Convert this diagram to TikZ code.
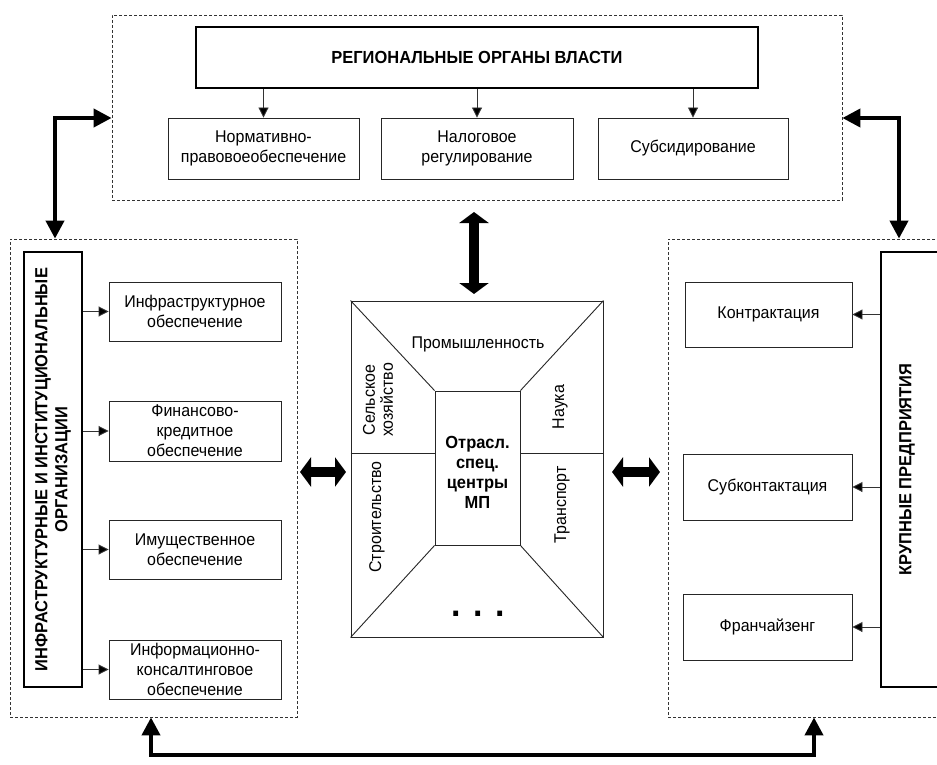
\documentclass[tikz,border=0pt]{standalone}
\usepackage{fontspec}
\setmainfont[FakeStretch=0.94]{Liberation Sans}
\usetikzlibrary{arrows.meta}
\newcommand\fsn{\fontsize{17}{20}\selectfont}
\newcommand\fsb{\fontsize{17.5}{20}\selectfont\bfseries}
\begin{document}
\begin{tikzpicture}[x=1pt,y=-1pt,
  frame/.style={draw=black!80, dash pattern=on 3pt off 2pt, line width=0.8pt, inner sep=0},
  thickbox/.style={draw, line width=2.2pt, inner sep=0},
  subbox/.style={draw=black!85, line width=0.9pt, align=center, font=\fsn, inner sep=0},
  thinarrow/.style={draw=black!80, line width=0.9pt, -{Triangle[length=10pt,width=10pt,fill=black]}},
  bigarrow/.style={line width=4pt, line join=miter, {Triangle[length=18pt,width=18pt]}-{Triangle[length=18pt,width=18pt]}},
  blockarrow/.style={line width=9.5pt, {Triangle[length=11pt,width=29pt]}-{Triangle[length=11pt,width=29pt]}},
  lbl/.style={font=\fsn, inner sep=0, align=center},
  cline/.style={draw=black!85, line width=0.9pt}
]
\clip (0,0) rectangle (937,765);
\fill[white] (0,0) rectangle (937,765);

% top group
\node[frame, minimum width=730, minimum height=185] (top) at (477,107.5) {};
\node[thickbox, minimum width=562, minimum height=61, font=\fsb] (reg) at (477,57.5) {РЕГИОНАЛЬНЫЕ ОРГАНЫ ВЛАСТИ};
\node[subbox, minimum width=191, minimum height=61] (norm) at (263.5,148.5) {Нормативно-\\правовоеобеспечение};
\node[subbox, minimum width=192, minimum height=61] (nal) at (477,148.5) {Налоговое\\регулирование};
\node[subbox, minimum width=190, minimum height=61] (sub) at (693,148.5) {Субсидирование};
\draw[thinarrow] (reg.south -| norm.north) -- (norm.north);
\draw[thinarrow] (reg.south -| nal.north) -- (nal.north);
\draw[thinarrow] (reg.south -| sub.north) -- (sub.north);

% left group
\node[frame, minimum width=287, minimum height=478] (left) at (153.5,478) {};
\node[thickbox, minimum width=58, minimum height=435] (infra) at (53,469.5) {};
\node[rotate=90, font=\fsb, align=center, inner sep=0] (infratext) at (infra.center) {ИНФРАСТРУКТУРНЫЕ И ИНСТИТУЦИОНАЛЬНЫЕ\\ОРГАНИЗАЦИИ};
\node[subbox, minimum width=172, minimum height=59] (l1) at (195,311.5) {Инфраструктурное\\обеспечение};
\node[subbox, minimum width=172, minimum height=60] (l2) at (195,431) {Финансово-\\кредитное\\обеспечение};
\node[subbox, minimum width=172, minimum height=59] (l3) at (195,549.5) {Имущественное\\обеспечение};
\node[subbox, minimum width=172, minimum height=59] (l4) at (195,669.5) {Информационно-\\консалтинговое\\обеспечение};
\foreach \b in {l1,l2,l3,l4} \draw[thinarrow] (infra.east |- \b.west) -- (\b.west);

% right group
\node[frame, minimum width=277, minimum height=478] (right) at (806.5,478) {};
\node[thickbox, minimum width=59, minimum height=435] (krup) at (910.5,469.5) {};
\node[rotate=90, font=\fsb, inner sep=0] (kruptext) at (907,469.5) {КРУПНЫЕ ПРЕДПРИЯТИЯ};
\node[subbox, minimum width=167, minimum height=65] (r1) at (768.5,314.5) {Контрактация};
\node[subbox, minimum width=169, minimum height=66] (r2) at (767.5,487) {Субконтактация};
\node[subbox, minimum width=169, minimum height=66] (r3) at (767.5,627) {Франчайзенг};
\foreach \b in {r1,r2,r3} \draw[thinarrow] (krup.west |- \b.east) -- (\b.east);

% centre
\node[cline, minimum width=252, minimum height=336, inner sep=0] (outer) at (477,469) {};
\node[cline, minimum width=85, minimum height=154, inner sep=0] (inner) at (477.5,468) {};
\node[font=\fsb, align=center, inner sep=0] (innertext) at (477.5,472) {Отрасл.\\спец.\\центры\\МП};
\draw[cline] (outer.north west) -- (inner.north west);
\draw[cline] (outer.north east) -- (inner.north east);
\draw[cline] (outer.south west) -- (inner.south west);
\draw[cline] (outer.south east) -- (inner.south east);
\coordinate (mid) at (0,453);
\draw[cline] (outer.west |- mid) -- (inner.west |- mid);
\draw[cline] (inner.east |- mid) -- (outer.east |- mid);
\node[lbl] (prom) at (478,344) {Промышленность};
\node[lbl, rotate=90, font=\fontsize{17}{18}\selectfont] (selh) at (378,400) {Сельское\\хозяйство};
\node[lbl, rotate=90] (nauka) at (560,407) {Наука};
\node[lbl, rotate=90] (stroi) at (377,517) {Строительство};
\node[lbl, rotate=90] (trans) at (562,505) {Транспорт};
\node[inner sep=0, anchor=base, font=\fontsize{36}{36}\selectfont\bfseries] (dots) at (478,616) {. . .};

% thick connectors
\coordinate (c1) at (55,118);
\coordinate (c2) at (899,118);
\coordinate (c3) at (151,755);
\coordinate (c4) at (814,755);
\draw[bigarrow] (left.north -| c1) -- (c1) -- (top.west |- c1);
\draw[bigarrow] (top.east |- c2) -- (c2) -- (right.north -| c2);
\draw[bigarrow] (left.south -| c3) -- (c3) -- (c4) -- (right.south -| c4);

% block double arrows
\coordinate (v1) at (474,212);
\coordinate (v2) at (474,294);
\coordinate (h1) at (300,472);
\coordinate (h2) at (346,472);
\coordinate (h3) at (612,472);
\coordinate (h4) at (660,472);
\draw[blockarrow] (v1) -- (v2);
\draw[blockarrow] (h1) -- (h2);
\draw[blockarrow] (h3) -- (h4);
\end{tikzpicture}
\end{document}
